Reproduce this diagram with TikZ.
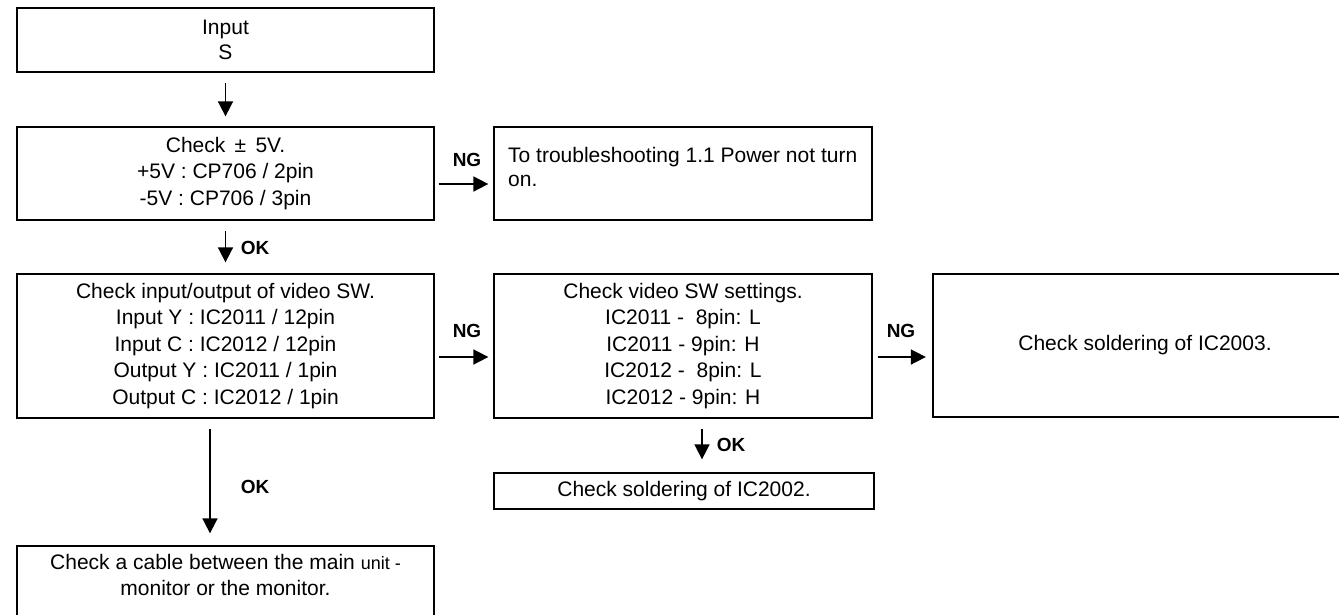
\documentclass[tikz,border=0pt]{standalone}
\usepackage{fontspec}
\setmainfont{Liberation Sans}
\usepackage{tikz}
\usetikzlibrary{arrows.meta}

\tikzset{
  box/.style={draw, line width=1.3pt, inner sep=0pt, align=center,
    font=\fontsize{21}{26.5}\selectfont},
  thickbox/.style={box, line width=2.3pt},
  flow/.style={line width=1.7pt, -{Triangle[length=15pt,width=15pt]}},
  tag/.style={inner sep=0pt, font=\fontsize{19}{19}\selectfont\bfseries}
}

\begin{document}
\begin{tikzpicture}[x=1pt,y=-1pt]
\useasboundingbox (0,0) rectangle (1339,614);
\node[thickbox, minimum width=417pt, minimum height=64pt, font=\fontsize{21}{25}\selectfont] (input) at (225.5,40) {Input\\S};
\node[box, minimum width=417pt, minimum height=93pt] (volt) at (225.5,173.5) {Check \,±\, 5V.\\+5V : CP706 / 2pin\\-5V : CP706 / 3pin};
\node[box, minimum width=378pt, minimum height=93pt] (power) at (683,173.5) {};
\node[inner sep=0pt, anchor=north west, align=left, font=\fontsize{21}{24}\selectfont] (powertxt) at (508,147) {To troubleshooting 1.1 Power not turn\\on.};
\node[box, minimum width=417pt, minimum height=144pt] (video) at (225.5,346) {Check input/output of video SW.\\Input Y : IC2011 / 12pin\\Input C : IC2012 / 12pin\\Output Y : IC2011 / 1pin\\Output C : IC2012 / 1pin};
\node[box, minimum width=378pt, minimum height=144pt] (settings) at (683,346) {Check video SW settings.\\IC2011 -\ \ 8pin: L\\IC2011 - 9pin: H\\IC2012 -\ \ 8pin: L\\IC2012 - 9pin: H};
\node[thickbox, minimum width=424pt, minimum height=143pt] (ic2003) at (1145,345.5) {Check soldering of IC2003.};
\node[box, minimum width=380pt, minimum height=36pt] (ic2002) at (684,491) {Check soldering of IC2002.};
\node[box, minimum width=417pt, minimum height=70pt, text depth=12pt] (cable) at (225.5,581) {Check a cable between the main {\fontsize{18}{26.5}\selectfont unit -}\\monitor or the monitor.};

\draw[flow, shorten <=10pt, shorten >=10pt] (input.south) -- (volt.north);
\draw[flow, shorten <=10pt, shorten >=11pt] (volt.south) -- (video.north);
\draw[flow, shorten <=4pt, shorten >=5pt] ([yshift=-10.5pt]volt.east) -- ([yshift=-10.5pt]volt.east -| power.west);
\draw[flow, shorten <=4pt, shorten >=5pt] ([yshift=-11pt]video.east) -- ([yshift=-11pt]video.east -| settings.west);
\draw[flow, shorten <=5pt, shorten >=6pt] ([yshift=-11pt]settings.east) -- ([yshift=-11pt]settings.east -| ic2003.west);
\draw[flow, shorten <=10pt, shorten >=13pt] ([xshift=19pt]settings.south) -- ([xshift=19pt]settings.south |- ic2002.north);
\draw[flow, shorten <=10pt, shorten >=12pt] ([xshift=-15.5pt]video.south) -- ([xshift=-15.5pt]video.south |- cable.north);

\node[tag] (ngvolt) at (467,160) {NG};
\node[tag] (ngvideo) at (467,331) {NG};
\node[tag] (ngset) at (901,331) {NG};
\node[tag] (okvolt) at (255,248) {OK};
\node[tag] (okvideo) at (255,487) {OK};
\node[tag] (okset) at (731,445) {OK};
\end{tikzpicture}
\end{document}
